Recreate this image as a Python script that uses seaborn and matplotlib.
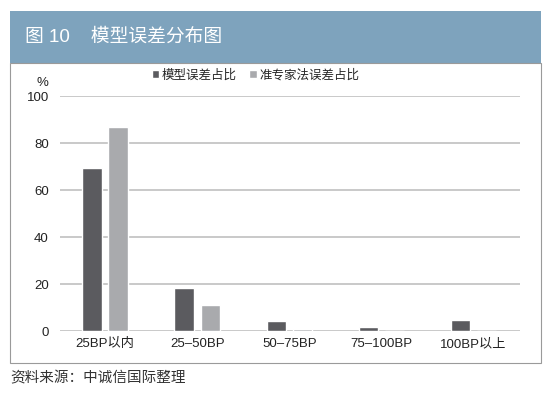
import pandas as pd
import matplotlib.pyplot as plt
import seaborn as sns
from matplotlib.patches import Rectangle

# 数据
categories = ["25BP以内", "25–50BP", "50–75BP", "75–100BP", "100BP以上"]
model_err = [69.5, 18.3, 4.3, 1.9, 4.7]
expert_err = [87.0, 10.9, 1.0, 0.0, 0.0]
series_names = ["模型误差占比", "准专家法误差占比"]

df = pd.DataFrame({
    "区间": categories * 2,
    "占比": model_err + expert_err,
    "系列": [series_names[0]] * 5 + [series_names[1]] * 5,
})

sns.set_theme(style="white")
plt.rcParams['font.family'] = ['Liberation Sans', 'Noto Sans CJK SC', 'DejaVu Sans']

fig = plt.figure(figsize=(5.5, 3.97), dpi=100)

# 标题栏和边框
fig.patches.append(Rectangle((0.018, 0.841), 0.966, 0.131, transform=fig.transFigure,
                             facecolor="#7ea3bd", edgecolor="none"))
fig.patches.append(Rectangle((0.018, 0.0856), 0.966, 0.7554, transform=fig.transFigure,
                             facecolor="none", edgecolor="#9a9a9a", linewidth=0.8))
fig.text(0.045, 0.906, "图 10    模型误差分布图", color="white", fontsize=13.5,
         va="center", ha="left")
fig.text(0.018, 0.048, "资料来源：中诚信国际整理", color="#333333", fontsize=10.5,
         va="center", ha="left")

ax = fig.add_axes([0.109, 0.166, 0.836, 0.592])
sns.barplot(data=df, x="区间", y="占比", hue="系列", order=categories,
            palette=["#5b5b5f", "#a9aaad"], width=0.566, gap=0.25,
            saturation=1, ax=ax)

ax.set_ylim(0, 100)
ax.set_xlim(-0.49, 4.5)
ax.set_yticks([0, 20, 40, 60, 80, 100])
ax.yaxis.grid(True, color="#c9c9c9", linewidth=1.4)
ax.set_axisbelow(True)
for s in ax.spines.values():
    s.set_visible(False)
ax.set_xlabel("")
ax.set_ylabel("")
ax.tick_params(axis="both", length=0, labelsize=9.5, colors="#222222")
ax.tick_params(axis="y", pad=8)
ax.tick_params(axis="x", pad=5)
ax.text(-0.038, 1.055, "%", transform=ax.transAxes, fontsize=9.5, color="#222222",
        ha="center", va="center")

ax.legend(loc="center left", bbox_to_anchor=(0.2, 1.088), ncol=2, frameon=False,
          fontsize=9, handlelength=0.6, handleheight=0.6, handletextpad=0.2,
          columnspacing=1.0, borderaxespad=0, borderpad=0)

fig.savefig("out.png", dpi=100)
